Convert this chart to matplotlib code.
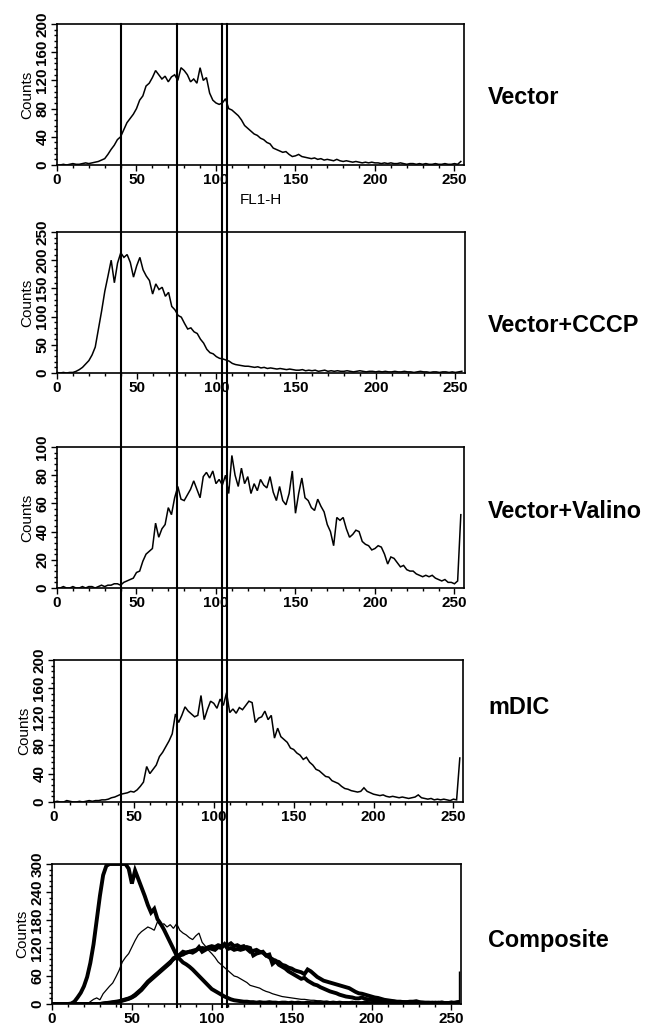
import numpy as np
import matplotlib
matplotlib.use('Agg')
import matplotlib.pyplot as plt
from matplotlib.lines import Line2D
from matplotlib.ticker import MultipleLocator

# ---------------------------------------------------------------------
# FL1-H histograms, counts read every 2nd channel (0,2,...,254)
# ---------------------------------------------------------------------
vector = [0, 0, 1, 0, 1, 2, 1, 1, 2, 3,
          2, 3, 4, 5, 7, 9, 15, 22, 28, 36,
          40, 50, 60, 66, 72, 80, 92, 98, 112, 116,
          124, 134, 128, 122, 126, 118, 125, 128, 120, 138,
          134, 128, 118, 122, 116, 138, 120, 124, 102, 92,
          88, 86, 88, 94, 80, 78, 74, 70, 64, 56,
          52, 48, 44, 42, 38, 36, 32, 30, 24, 22,
          20, 18, 19, 15, 12, 13, 15, 12, 11, 10,
          9, 10, 8, 9, 7, 8, 7, 6, 8, 6,
          5, 6, 5, 4, 5, 4, 3, 4, 3, 4,
          3, 3, 2, 3, 2, 3, 2, 2, 3, 2,
          1, 2, 2, 1, 2, 1, 2, 1, 1, 2,
          1, 1, 2, 1, 1, 2, 1, 5]

cccp = [1, 0, 1, 0, 1, 1, 3, 6, 10, 16,
        22, 32, 46, 78, 110, 145, 172, 200, 160, 195,
        213, 205, 210, 196, 170, 190, 205, 183, 172, 164,
        140, 158, 148, 152, 136, 143, 118, 112, 102, 99,
        88, 78, 80, 73, 70, 60, 53, 42, 36, 34,
        29, 26, 25, 23, 21, 17, 15, 14, 13, 12,
        12, 11, 10, 11, 9, 10, 8, 9, 8, 7,
        8, 7, 6, 7, 6, 5, 5, 6, 4, 5,
        4, 5, 3, 4, 5, 3, 4, 3, 4, 3,
        3, 4, 3, 2, 3, 4, 3, 2, 3, 3,
        2, 3, 2, 3, 2, 2, 3, 2, 2, 3,
        2, 2, 1, 2, 3, 2, 2, 1, 2, 2,
        1, 2, 2, 1, 2, 1, 2, 3]

valino = [0, 0, 1, 0, 0, 1, 0, 0, 1, 0,
          1, 1, 0, 1, 2, 1, 2, 2, 3, 3,
          2, 4, 5, 6, 7, 11, 12, 19, 24, 26,
          28, 46, 36, 42, 45, 57, 52, 64, 72, 63,
          62, 66, 70, 76, 70, 64, 79, 82, 78, 83,
          74, 77, 73, 80, 67, 94, 80, 72, 85, 74,
          79, 67, 74, 69, 77, 73, 71, 79, 68, 62,
          72, 62, 59, 67, 83, 53, 67, 78, 64, 62,
          57, 55, 63, 58, 54, 45, 40, 30, 50, 48,
          50, 42, 36, 38, 41, 40, 33, 31, 30, 27,
          28, 30, 29, 24, 17, 22, 21, 18, 15, 16,
          13, 12, 12, 10, 9, 8, 9, 8, 9, 7,
          6, 5, 6, 4, 4, 3, 5, 52]

mdic = [0, 1, 0, 0, 2, 1, 0, 0, 1, 0,
        1, 2, 1, 2, 2, 3, 3, 4, 6, 7,
        9, 11, 12, 13, 15, 14, 17, 22, 28, 50,
        40, 46, 52, 64, 70, 78, 86, 96, 124, 112,
        122, 134, 128, 124, 120, 122, 150, 116, 130, 142,
        139, 132, 145, 136, 154, 126, 131, 125, 133, 130,
        136, 142, 140, 112, 118, 120, 128, 116, 122, 90,
        104, 92, 88, 84, 76, 74, 69, 66, 60, 63,
        56, 52, 46, 44, 40, 36, 35, 30, 28, 26,
        22, 19, 18, 16, 15, 14, 15, 20, 15, 13,
        11, 10, 9, 10, 8, 7, 8, 7, 6, 7,
        6, 5, 6, 7, 10, 6, 5, 4, 5, 3,
        4, 3, 4, 3, 2, 4, 3, 62]

# composite overlay (own scale, 0-300)
comp_cccp = [0, 0, 0, 0, 0, 0, 1, 5, 14, 24,
             38, 58, 88, 128, 180, 232, 276, 296, 300, 300,
             300, 300, 300, 300, 290, 258, 286, 268, 250, 232,
             212, 196, 204, 182, 172, 160, 146, 132, 118, 104,
             96, 89, 85, 80, 74, 67, 60, 53, 46, 39,
             32, 28, 24, 20, 16, 13, 10, 8, 7, 6,
             5, 5, 4, 4, 3, 4, 3, 3, 4, 3,
             3, 2, 3, 3, 2, 3, 2, 3, 2, 2,
             3, 2, 2, 3, 2, 2, 3, 2, 2, 2,
             3, 2, 2, 2, 3, 2, 2, 2, 3, 2,
             2, 3, 2, 2, 2, 3, 2, 2, 2, 2,
             3, 2, 2, 2, 2, 3, 2, 2, 2, 2,
             2, 3, 2, 2, 2, 2, 3, 4]

comp_vector = [0, 0, 0, 0, 0, 0, 0, 0, 0, 0,
               0, 0, 5, 10, 13, 9, 22, 30, 38, 45,
               58, 72, 90, 100, 108, 122, 136, 148, 155, 160,
               165, 162, 158, 176, 168, 172, 165, 170, 162, 172,
               158, 152, 148, 142, 138, 146, 152, 132, 124, 115,
               108, 100, 90, 84, 78, 72, 66, 60, 58, 54,
               50, 46, 40, 38, 36, 34, 30, 27, 25, 22,
               20, 18, 16, 15, 14, 13, 12, 11, 10, 10,
               9, 8, 8, 7, 7, 6, 6, 5, 6, 5,
               5, 4, 5, 4, 4, 5, 4, 3, 4, 4,
               3, 4, 3, 3, 4, 3, 3, 4, 3, 3,
               3, 2, 3, 3, 2, 3, 3, 2, 3, 2,
               3, 2, 3, 2, 2, 3, 2, 3]

comp_valino = [0, 0, 0, 0, 0, 0, 0, 0, 0, 0,
               0, 0, 0, 0, 0, 0, 1, 2, 3, 4,
               5, 6, 8, 10, 12, 15, 20, 26, 32, 40,
               48, 54, 60, 66, 72, 78, 84, 90, 96, 100,
               104, 106, 110, 112, 114, 116, 118, 120, 119, 122,
               124, 122, 126, 124, 128, 126, 130, 124, 126, 122,
               124, 118, 112, 114, 116, 112, 110, 104, 100, 96,
               92, 90, 84, 82, 78, 76, 72, 70, 68, 64,
               74, 70, 64, 58, 54, 50, 48, 46, 44, 42,
               40, 38, 36, 34, 30, 26, 23, 22, 20, 18,
               16, 14, 13, 11, 9, 8, 7, 6, 5, 5,
               4, 4, 3, 3, 3, 2, 3, 2, 2, 3,
               2, 2, 3, 2, 2, 3, 2, 3]

comp_mdic = [0, 0, 0, 0, 0, 0, 0, 0, 0, 0,
             0, 0, 0, 0, 0, 0, 1, 2, 2, 3,
             4, 5, 7, 9, 11, 14, 18, 24, 30, 38,
             46, 52, 58, 64, 70, 76, 82, 88, 98, 102,
             106, 112, 110, 112, 110, 114, 122, 112, 116, 120,
             118, 116, 122, 120, 128, 118, 120, 116, 118, 116,
             118, 122, 120, 104, 108, 110, 112, 104, 106, 86,
             92, 84, 80, 76, 70, 66, 62, 58, 54, 56,
             50, 46, 42, 40, 36, 33, 30, 27, 25, 23,
             20, 18, 16, 15, 14, 12, 12, 14, 11, 10,
             9, 8, 7, 7, 6, 5, 5, 5, 4, 4,
             4, 4, 5, 5, 6, 4, 3, 3, 3, 2,
             3, 2, 3, 2, 2, 3, 2, 3]
comp_end_spike = [255, 70]   # thin last-channel spike on the composite

names = ['Vector', 'Vector+CCCP', 'Vector+Valino', 'mDIC', 'Composite']
ymaxes = [200, 250, 100, 200, 300]
ysteps = [40, 50, 20, 40, 60]
gates = [40.5, 75.5, 104, 107]   # FL1-H channel of the vertical marker lines

panels = [[vector], [cccp], [valino], [mdic],
          [comp_cccp, comp_vector, comp_valino, comp_mdic]]
widths = [[1.1], [1.1], [1.1], [1.1], [2.8, 0.9, 2.8, 2.8]]

# ---------------------------------------------------------------------
# layout (pixels of a 647x1030 canvas): left, top, right, bottom
# ---------------------------------------------------------------------
W, H = 647., 1030.
boxes = [(57, 24, 464, 165), (57, 232, 465, 373), (57, 447, 464, 588),
         (54, 660, 463, 802), (52, 864, 461, 1004)]
label_y = [98, 325, 512, 707, 940]

tickfont = ['Liberation Sans Narrow', 'Liberation Sans', 'DejaVu Sans']
plt.rcParams['font.family'] = tickfont

fig = plt.figure(figsize=(W/100, H/100), dpi=100)
axs = []
for i in range(5):
    l, t, r, b = boxes[i]
    ax = fig.add_axes([l/W, 1-b/H, (r-l)/W, (b-t)/H])
    axs.append(ax)
    for vals, lw in zip(panels[i], widths[i]):
        ch = np.arange(len(vals))*2
        ax.plot(ch, vals, color='black', lw=lw, solid_joinstyle='miter')
    if i == 4:
        ax.vlines(comp_end_spike[0], 0, comp_end_spike[1], color='black', lw=1.0)
    ax.set_xlim(0, 256)
    ax.set_ylim(0, ymaxes[i])
    ax.xaxis.set_major_locator(MultipleLocator(50))
    ax.xaxis.set_minor_locator(MultipleLocator(10))
    ax.yaxis.set_major_locator(MultipleLocator(ysteps[i]))
    ax.yaxis.set_minor_locator(MultipleLocator(ysteps[i]/5.))
    ax.tick_params(which='both', direction='out', width=1.0, labelsize=11, pad=1.5)
    ax.tick_params(which='major', length=4)
    ax.tick_params(which='minor', length=2)
    for t in ax.get_xticklabels() + ax.get_yticklabels():
        t.set_fontweight('bold')
    for t in ax.get_yticklabels():
        t.set_rotation(90)
        t.set_va('center')
    for s in ax.spines.values():
        s.set_linewidth(1.2)
    ax.set_ylabel('Counts', fontsize=11, labelpad=1)
    fig.text(488/W, 1-label_y[i]/H, names[i], fontsize=16.8, fontweight='bold',
             family=['Liberation Sans', 'DejaVu Sans'], va='center', ha='left')

fig.text(240/W, 1-200/H, 'FL1-H', fontsize=11, va='center', ha='left')

# vertical marker lines running through all panels
top = axs[0].get_position().y1
bot = axs[-1].get_position().y0
for g in gates:
    xf = fig.transFigure.inverted().transform(axs[0].transData.transform((g, 0)))[0]
    fig.add_artist(Line2D([xf, xf], [bot - 3/H, top], color='black', lw=1.5))

fig.savefig('out.png', dpi=100)
